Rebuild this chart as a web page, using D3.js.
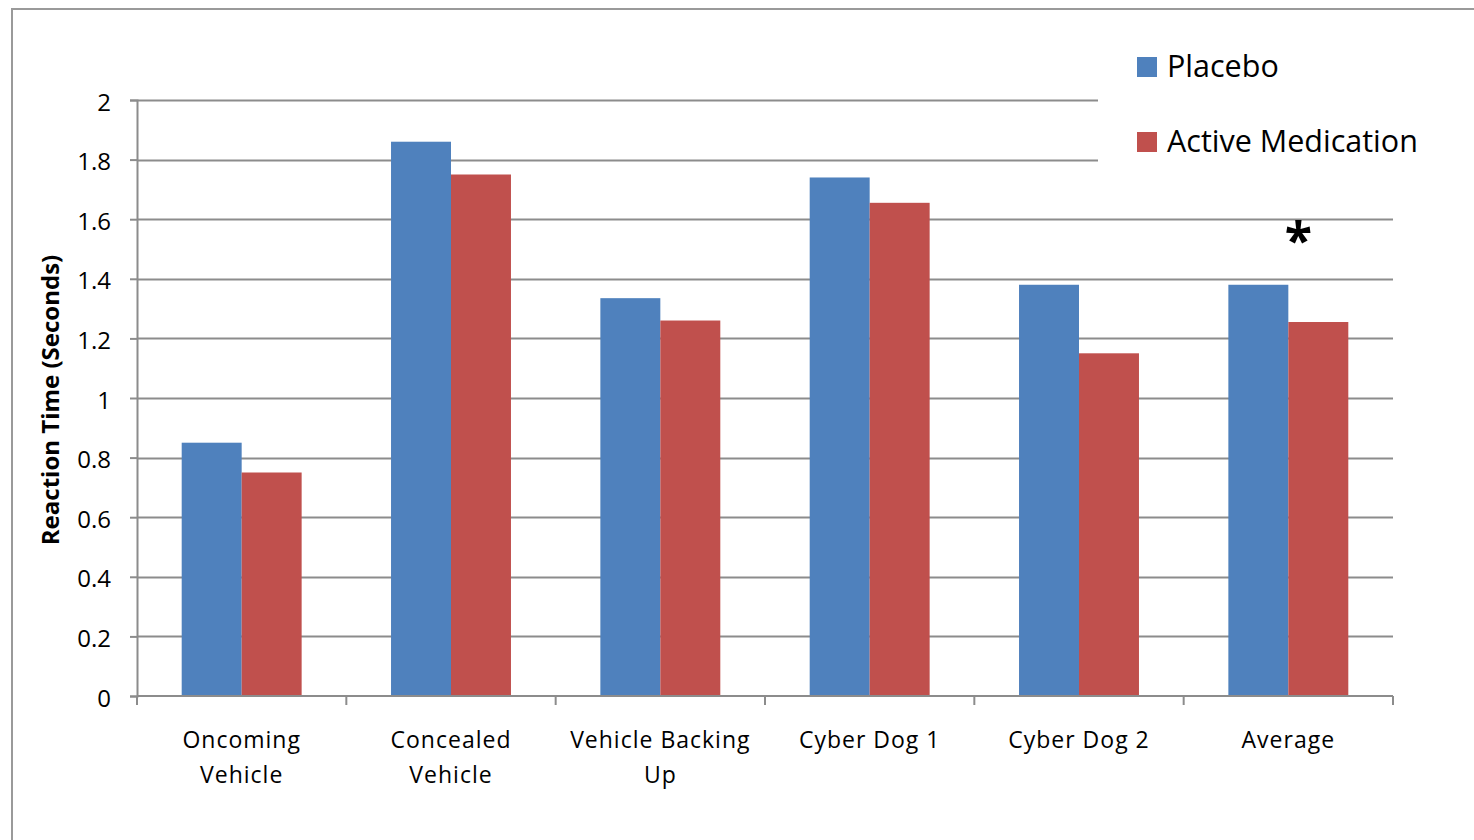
<!DOCTYPE html>
<html>
<head>
<meta charset="utf-8">
<script src="https://cdn.jsdelivr.net/npm/d3@7"></script>
<style>
  body { margin: 0; background: #fff; }
  svg text { font-family: "Open Sans", "Liberation Sans", sans-serif; fill: #000; }
</style>
</head>
<body>
<svg id="chart" width="1474" height="840"></svg>
<script>
// data
const categories = [["Oncoming", "Vehicle"], ["Concealed", "Vehicle"], ["Vehicle Backing", "Up"], ["Cyber Dog 1"], ["Cyber Dog 2"], ["Average"]];
const seriesNames = ["Placebo", "Active Medication"];
const placebo = [0.85, 1.86, 1.335, 1.74, 1.38, 1.38];
const active = [0.75, 1.75, 1.26, 1.655, 1.15, 1.255];
const yTicks = [0, 0.2, 0.4, 0.6, 0.8, 1, 1.2, 1.4, 1.6, 1.8, 2];
const colors = ["#4F81BD", "#C0504D"];

const svg = d3.select("#chart");
const plotL = 137, plotR = 1393, plotT = 100, plotB = 696;

// outer frame
svg.append("rect").attr("x", 12).attr("y", 9).attr("width", 1480).attr("height", 850)
    .attr("fill", "none").attr("stroke", "#9a9a9a").attr("stroke-width", 2);

const y = d3.scaleLinear().domain([0, 2]).range([plotB, plotT]);
const x = d3.scaleBand().domain(d3.range(categories.length)).range([plotL, plotR])
    .paddingInner(0.427).paddingOuter(0.2135);
const xs = d3.scaleBand().domain([0, 1]).range([0, x.bandwidth()]);

// gridlines
svg.append("g").selectAll("line").data(yTicks.slice(1)).enter().append("line")
    .attr("x1", plotL).attr("x2", plotR)
    .attr("y1", d => Math.round(y(d)) + 0.5).attr("y2", d => Math.round(y(d)) + 0.5)
    .attr("stroke", "#8c8c8c").attr("stroke-width", 2);

// bars
const groups = svg.append("g").selectAll("g").data(categories).enter().append("g")
    .attr("transform", (d, i) => `translate(${x(i)},0)`);
groups.selectAll("rect").data((d, i) => [placebo[i], active[i]]).enter().append("rect")
    .attr("x", (d, j) => xs(j))
    .attr("y", d => y(d))
    .attr("width", xs.bandwidth())
    .attr("height", d => plotB - y(d))
    .attr("fill", (d, j) => colors[j]);

// y axis
const yAxis = svg.append("g").attr("transform", `translate(${plotL},0)`)
    .call(d3.axisLeft(y).tickValues(yTicks).tickSize(7).tickPadding(19).tickFormat(d3.format("")));
yAxis.select(".domain").attr("stroke", "#8c8c8c").attr("stroke-width", 2);
yAxis.selectAll(".tick line").attr("stroke", "#8c8c8c").attr("stroke-width", 2);
yAxis.selectAll(".tick text").style("font-size", "24px").attr("dy", "0.42em");

// x axis line + boundary ticks
const xLin = d3.scaleLinear().domain([0, categories.length]).range([plotL, plotR]);
svg.append("line").attr("x1", plotL).attr("x2", plotR).attr("y1", plotB).attr("y2", plotB)
    .attr("stroke", "#8c8c8c").attr("stroke-width", 2);
svg.append("g").selectAll("line").data(d3.range(categories.length + 1)).enter().append("line")
    .attr("x1", d => xLin(d)).attr("x2", d => xLin(d))
    .attr("y1", plotB).attr("y2", plotB + 9)
    .attr("stroke", "#8c8c8c").attr("stroke-width", 2);

// category labels
const labels = svg.append("g").selectAll("text").data(categories).enter().append("text")
    .attr("x", (d, i) => x(i) + x.bandwidth() / 2)
    .attr("y", 748)
    .attr("text-anchor", "middle")
    .style("font-size", "23px")
    .style("letter-spacing", "1px");
labels.selectAll("tspan").data(d => d).enter().append("tspan")
    .attr("x", function () { return d3.select(this.parentNode).attr("x"); })
    .attr("dy", (d, k) => k === 0 ? 0 : 35)
    .text(d => d);

// y title
svg.append("text")
    .attr("transform", "translate(59,400) rotate(-90)")
    .attr("text-anchor", "middle")
    .style("font-size", "24px").style("font-weight", "bold")
    .text("Reaction Time (Seconds)");

// legend (white box hides gridlines behind)
const legend = svg.append("g");
legend.append("rect").attr("x", 1098).attr("y", 30).attr("width", 330).attr("height", 150).attr("fill", "#fff");
seriesNames.forEach((name, i) => {
    legend.append("rect").attr("x", 1137).attr("y", 57 + i * 75).attr("width", 20).attr("height", 20)
        .attr("fill", colors[i]);
    legend.append("text").attr("x", 1167).attr("y", 77 + i * 75)
        .style("font-size", "30.5px").text(name);
});

// significance marker
svg.append("text").attr("x", x(5) + x.bandwidth() / 2 + 10).attr("y", 258)
    .attr("text-anchor", "middle")
    .style("font-size", "50px").style("font-weight", "bold")
    .text("*");
</script>
</body>
</html>
